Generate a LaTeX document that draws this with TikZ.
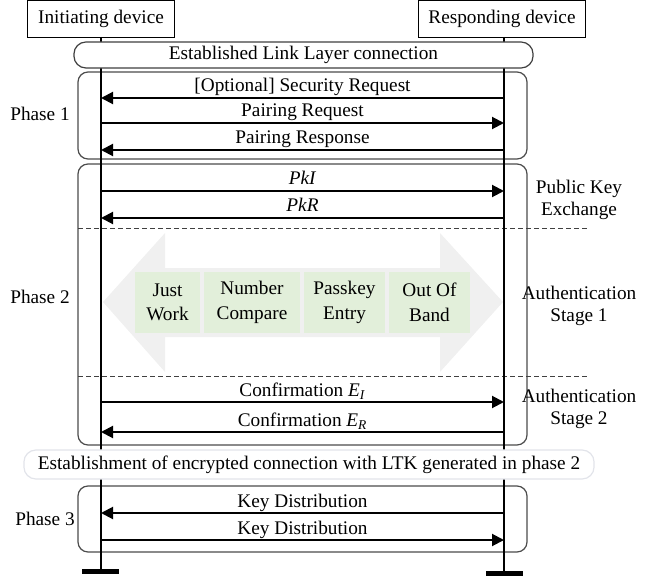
\documentclass[tikz,border=0pt]{standalone}
\usepackage{fontspec}
\setmainfont{Liberation Serif}
\usetikzlibrary{arrows.meta}
\definecolor{methodgreen}{RGB}{226,239,218}
\definecolor{bigarrowgray}{RGB}{240,240,240}
\definecolor{lightframe}{RGB}{226,228,234}
\tikzset{
  devbox/.style={draw, line width=0.025cm, inner sep=0pt, minimum height=0.9cm},
  lifeline/.style={line width=0.05cm},
  msg/.style={line width=0.05cm, -{Triangle[length=0.3cm, width=0.3cm]}},
  msglabel/.style={midway, anchor=base, yshift=0.15cm, inner sep=0pt},
  phasebox/.style={draw=black!70, line width=0.03cm, rounded corners=0.25cm},
  stagesep/.style={draw=black!75, line width=0.025cm, dash pattern=on 0.125cm off 0.075cm},
  method/.style={fill=methodgreen, inner sep=0pt, minimum height=1.525cm, align=center,
    font=\fontsize{13.7}{17.5}\selectfont},
  sidelabel/.style={align=center}
}
\begin{document}
\begin{tikzpicture}[x=0.025cm, y=-0.025cm, font=\fontsize{13.7}{15.6}\selectfont]
			%%%%% START %%%%%
			\useasboundingbox (0,0) rectangle (664,577);
			
			% background arrow of the association models
			\fill[bigarrowgray] (103,302) -- (165,233) -- (165,268) -- (440,268) -- (440,233)
			  -- (503,302) -- (440,372) -- (440,337) -- (165,337) -- (165,372) -- cycle;
			\node[method, minimum width=1.625cm] (jw) at (167.5,302.5) {Just\\Work};
			\node[method, minimum width=2.4cm] (nc) at (252,302.5) {Number\\Compare};
			\node[method, minimum width=2.025cm] (pe) at (344.5,302.5) {Passkey\\Entry};
			\node[method, minimum width=2.025cm] (oob) at (429.5,302.5) {Out Of\\Band};
			
			% phases
			\draw[phasebox] (78,72) rectangle (527,159);
			\draw[phasebox] (78,164) rectangle (527,445);
			\draw[phasebox] (78,486) rectangle (527,552);
			\draw[stagesep] (78,228) -- (589,228);
			\draw[stagesep] (78,376) -- (589,376);
			
			\node (ph1) at (40,114) {Phase 1};
			\node (ph2) at (40,297) {Phase 2};
			\node (ph3) at (45,519) {Phase 3};
			
			\node[sidelabel] (pke) at (579,200) {Public Key\\Exchange};
			\node[sidelabel] (auth1) at (579,306) {Authentication\\Stage 1};
			\node[sidelabel] (auth2) at (579,409) {Authentication\\Stage 2};
			
			% devices and lifelines
			\node[devbox, minimum width=3.65cm] (ini) at (101,19) {Initiating device};
			\node[devbox, minimum width=4.15cm] (resp) at (502,19) {Responding device};
			
			\coordinate (ltop) at (101,37);
			\coordinate (lend) at (101,569);
			\coordinate (rtop) at (504,37);
			\coordinate (rend) at (504,571);
			\draw[lifeline] (ltop) -- (lend);
			\draw[lifeline] (rtop) -- (rend);
			\fill (82,569) rectangle (119,574);
			\fill (486,571) rectangle (523,576);
			
			\node[draw=black!75, line width=0.03cm, fill=white, rounded corners=0.3cm,
			  minimum width=11.475cm, minimum height=0.65cm, inner sep=0pt] (link) at (303.5,55) {Established Link Layer connection};
			\node[draw=lightframe, line width=0.03cm, fill=white, rounded corners=0.3cm,
			  minimum width=14.25cm, minimum height=0.725cm, inner sep=0pt] (enc) at (309,464.5) {Establishment of encrypted connection with LTK generated in phase 2};
			
			% messages
			\coordinate (l1) at (101,98);  \coordinate (r1) at (504,98);
			\coordinate (l2) at (101,123); \coordinate (r2) at (504,123);
			\coordinate (l3) at (101,150); \coordinate (r3) at (504,150);
			\coordinate (l4) at (101,191); \coordinate (r4) at (504,191);
			\coordinate (l5) at (101,218); \coordinate (r5) at (504,218);
			\coordinate (l6) at (101,402); \coordinate (r6) at (504,402);
			\coordinate (l7) at (101,432); \coordinate (r7) at (504,432);
			\coordinate (l8) at (101,513); \coordinate (r8) at (504,513);
			\coordinate (l9) at (101,540); \coordinate (r9) at (504,540);
			
			\draw[msg] (r1) -- (l1) node[msglabel] {[Optional] Security Request};
			\draw[msg] (l2) -- (r2) node[msglabel] {Pairing Request};
			\draw[msg] (r3) -- (l3) node[msglabel] {Pairing Response};
			\draw[msg] (l4) -- (r4) node[msglabel] {\textit{PkI}};
			\draw[msg] (r5) -- (l5) node[msglabel] {\textit{PkR}};
			\draw[msg] (l6) -- (r6) node[msglabel] {Confirmation \textit{E}\textsubscript{\textit{I}}};
			\draw[msg] (r7) -- (l7) node[msglabel] {Confirmation \textit{E}\textsubscript{\textit{R}}};
			\draw[msg] (r8) -- (l8) node[msglabel] {Key Distribution};
			\draw[msg] (l9) -- (r9) node[msglabel] {Key Distribution};
			
			%%%%% END %%%%%
\end{tikzpicture}
\end{document}
